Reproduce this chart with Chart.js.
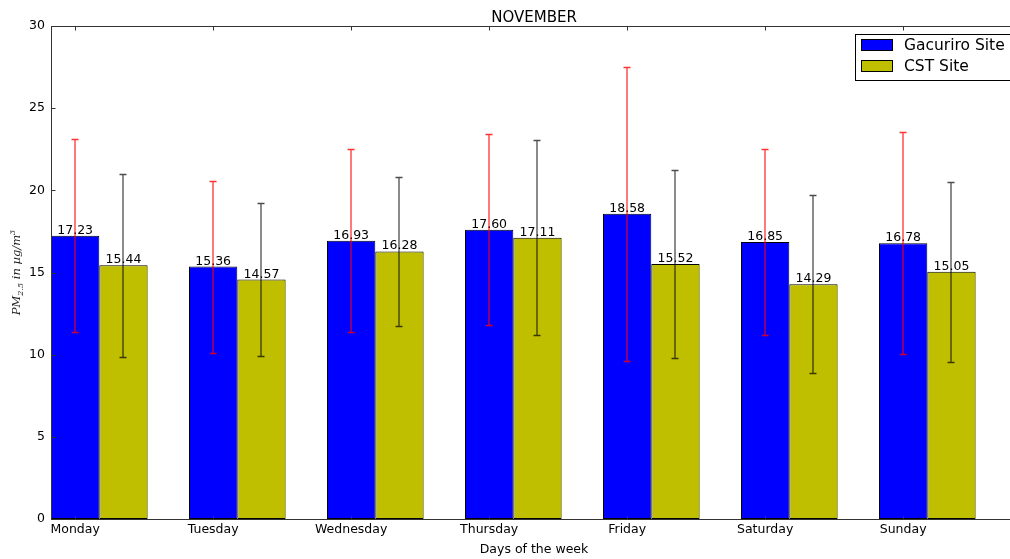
<!DOCTYPE html>
<html>
<head>
<meta charset="utf-8">
<script src="https://cdn.jsdelivr.net/npm/chart.js@4.4.0/dist/chart.umd.min.js"></script>
<style>
  html, body { margin: 0; padding: 0; background: #fff; overflow: hidden; }
  #wrap { position: relative; width: 1030px; height: 559px; }
</style>
</head>
<body>
<div id="wrap"><canvas id="pmChart"></canvas></div>
<script>
const days = ['Monday', 'Tuesday', 'Wednesday', 'Thursday', 'Friday', 'Saturday', 'Sunday'];
const gacuriroMean = [17.23, 15.36, 16.93, 17.60, 18.58, 16.85, 16.78];
const gacuriroStd = [5.87, 5.23, 5.58, 5.81, 8.95, 5.66, 6.75];
const cstMean = [15.44, 14.57, 16.28, 17.11, 15.52, 14.29, 15.05];
const cstStd = [5.57, 4.65, 4.53, 5.93, 5.72, 5.41, 5.47];
const yTicks = [0, 5, 10, 15, 20, 25, 30];

const BAR_W = 0.35;
const FONT = '"DejaVu Sans", sans-serif';

// bars grouped around i + BAR_W so blue starts at i, tick sits on blue center
const toPoints = vals => vals.map((v, i) => ({ x: i + BAR_W, y: v }));

const errorBars = {
    id: 'errorBars',
    afterDatasetsDraw(chart) {
        const ctx = chart.ctx;
        const y = chart.scales.y;
        const sets = [[gacuriroMean, gacuriroStd, 'rgba(255,0,0,0.8)'], [cstMean, cstStd, 'rgba(0,0,0,0.7)']];
        ctx.save();
        sets.forEach(([means, stds, color], d) => {
            const meta = chart.getDatasetMeta(d);
            ctx.strokeStyle = color;
            ctx.lineWidth = 1.3;
            means.forEach((m, i) => {
                const x = Math.round(meta.data[i].x);
                const top = Math.round(y.getPixelForValue(m + stds[i])) + 0.5;
                const bot = Math.round(y.getPixelForValue(m - stds[i])) + 0.5;
                ctx.beginPath();
                ctx.moveTo(x, top); ctx.lineTo(x, bot);
                ctx.moveTo(x - 3.5, top); ctx.lineTo(x + 3.5, top);
                ctx.moveTo(x - 3.5, bot); ctx.lineTo(x + 3.5, bot);
                ctx.stroke();
            });
        });
        ctx.restore();
    }
};

const valueLabels = {
    id: 'valueLabels',
    afterDatasetsDraw(chart) {
        const ctx = chart.ctx;
        ctx.save();
        ctx.font = '12.5px ' + FONT;
        ctx.fillStyle = '#000';
        ctx.textAlign = 'center';
        ctx.textBaseline = 'alphabetic';
        chart.data.datasets.forEach((ds, d) => {
            chart.getDatasetMeta(d).data.forEach((bar, i) => {
                ctx.fillText(ds.data[i].y.toFixed(2), bar.x, bar.y - 2);
            });
        });
        ctx.restore();
    }
};

const frame = {
    id: 'frame',
    afterDraw(chart) {
        const { ctx, chartArea: a, scales } = chart;
        const L = a.left + 0.5, R = a.right + 0.5, T = a.top + 0.5, B = a.bottom + 0.5;
        ctx.save();
        ctx.strokeStyle = '#333';
        ctx.lineWidth = 1;
        ctx.strokeRect(L, T, R - L, B - T);
        ctx.beginPath();
        yTicks.forEach(v => {
            const p = Math.round(scales.y.getPixelForValue(v)) + 0.5;
            ctx.moveTo(L, p); ctx.lineTo(L + 4, p);
            ctx.moveTo(R, p); ctx.lineTo(R - 4, p);
        });
        scales.x.ticks.forEach(t => {
            const p = Math.round(scales.x.getPixelForValue(t.value)) + 0.5;
            ctx.moveTo(p, B); ctx.lineTo(p, B - 4);
            ctx.moveTo(p, T); ctx.lineTo(p, T + 4);
        });
        ctx.stroke();

        // title and x axis title
        ctx.fillStyle = '#000';
        ctx.textAlign = 'center';
        ctx.textBaseline = 'alphabetic';
        ctx.font = '15px ' + FONT;
        const cx = (a.left + a.right) / 2;
        ctx.fillText('NOVEMBER', cx, 21.5);
        ctx.font = '12.5px ' + FONT;
        ctx.fillText('Days of the week', cx, 553);

        // y axis title: PM_{2.5} in µg/m^3
        ctx.translate(20, (a.top + a.bottom) / 2);
        ctx.rotate(-Math.PI / 2);
        const big = 'italic 11.5px "DejaVu Serif", serif';
        const small = 'italic 8px "DejaVu Serif", serif';
        const parts = [['PM', big, 0], ['2.5', small, 3], [' in ', big, 0], ['\u00b5g/m', big, 0], ['3', small, -5]];
        let w = 0;
        parts.forEach(([s, f]) => { ctx.font = f; w += ctx.measureText(s).width; });
        let x = -w / 2;
        ctx.textAlign = 'left';
        ctx.fillStyle = '#222';
        parts.forEach(([s, f, dy]) => {
            ctx.font = f;
            ctx.fillText(s, x, dy);
            x += ctx.measureText(s).width;
        });
        ctx.restore();

        // legend, upper right inside the axes
        ctx.save();
        const lx = 855.5, ly = 34.5, lw = 160, lh = 46;
        ctx.fillStyle = '#fff';
        ctx.fillRect(lx, ly, lw, lh);
        ctx.strokeStyle = '#000';
        ctx.strokeRect(lx, ly, lw, lh);
        const items = [['Gacuriro Site', '#0000ff'], ['CST Site', '#bfbf00']];
        ctx.font = '15.5px ' + FONT;
        ctx.textBaseline = 'middle';
        items.forEach(([label, color], i) => {
            const yy = 45 + i * 21;
            ctx.fillStyle = color;
            ctx.fillRect(861.5, yy - 5.5, 31, 11);
            ctx.strokeRect(861.5, yy - 5.5, 31, 11);
            ctx.fillStyle = '#000';
            ctx.fillText(label, 904, yy + 1);
        });
        ctx.restore();
    }
};

new Chart(document.getElementById('pmChart'), {
    type: 'bar',
    data: {
        datasets: [
            {
                label: 'Gacuriro Site',
                data: toPoints(gacuriroMean),
                backgroundColor: '#0000ff',
                borderColor: '#000',
                borderWidth: 1,
                borderSkipped: false
            },
            {
                label: 'CST Site',
                data: toPoints(cstMean),
                backgroundColor: '#bfbf00',
                borderColor: '#000',
                borderWidth: 1,
                borderSkipped: false
            }
        ]
    },
    options: {
        responsive: true,
        maintainAspectRatio: false,
        animation: false,
        devicePixelRatio: 1,
        categoryPercentage: 2 * BAR_W,
        barPercentage: 1,
        layout: { padding: { top: 26, right: 13, left: 0, bottom: 0 } },
        scales: {
            x: {
                type: 'linear',
                min: 0,
                max: 7,
                offset: false,
                grid: { display: false, drawTicks: false },
                border: { display: false },
                afterBuildTicks: s => { s.ticks = days.map((_, i) => ({ value: i + BAR_W / 2 })); },
                afterFit: s => { s.height = 40; },
                ticks: {
                    autoSkip: false,
                    maxRotation: 0,
                    padding: 3,
                    color: '#000',
                    font: { family: FONT, size: 12.5 },
                    callback: (v, i) => days[i]
                }
            },
            y: {
                min: 0,
                max: 30,
                grid: { display: false, drawTicks: false },
                border: { display: false },
                afterBuildTicks: s => { s.ticks = yTicks.map(v => ({ value: v })); },
                afterFit: s => { s.width = 51; },
                ticks: {
                    padding: 6,
                    color: '#000',
                    font: { family: FONT, size: 12.5 }
                }
            }
        },
        plugins: {
            legend: { display: false },
            title: { display: false },
            tooltip: { enabled: false }
        }
    },
    plugins: [errorBars, valueLabels, frame]
});
</script>
</body>
</html>
